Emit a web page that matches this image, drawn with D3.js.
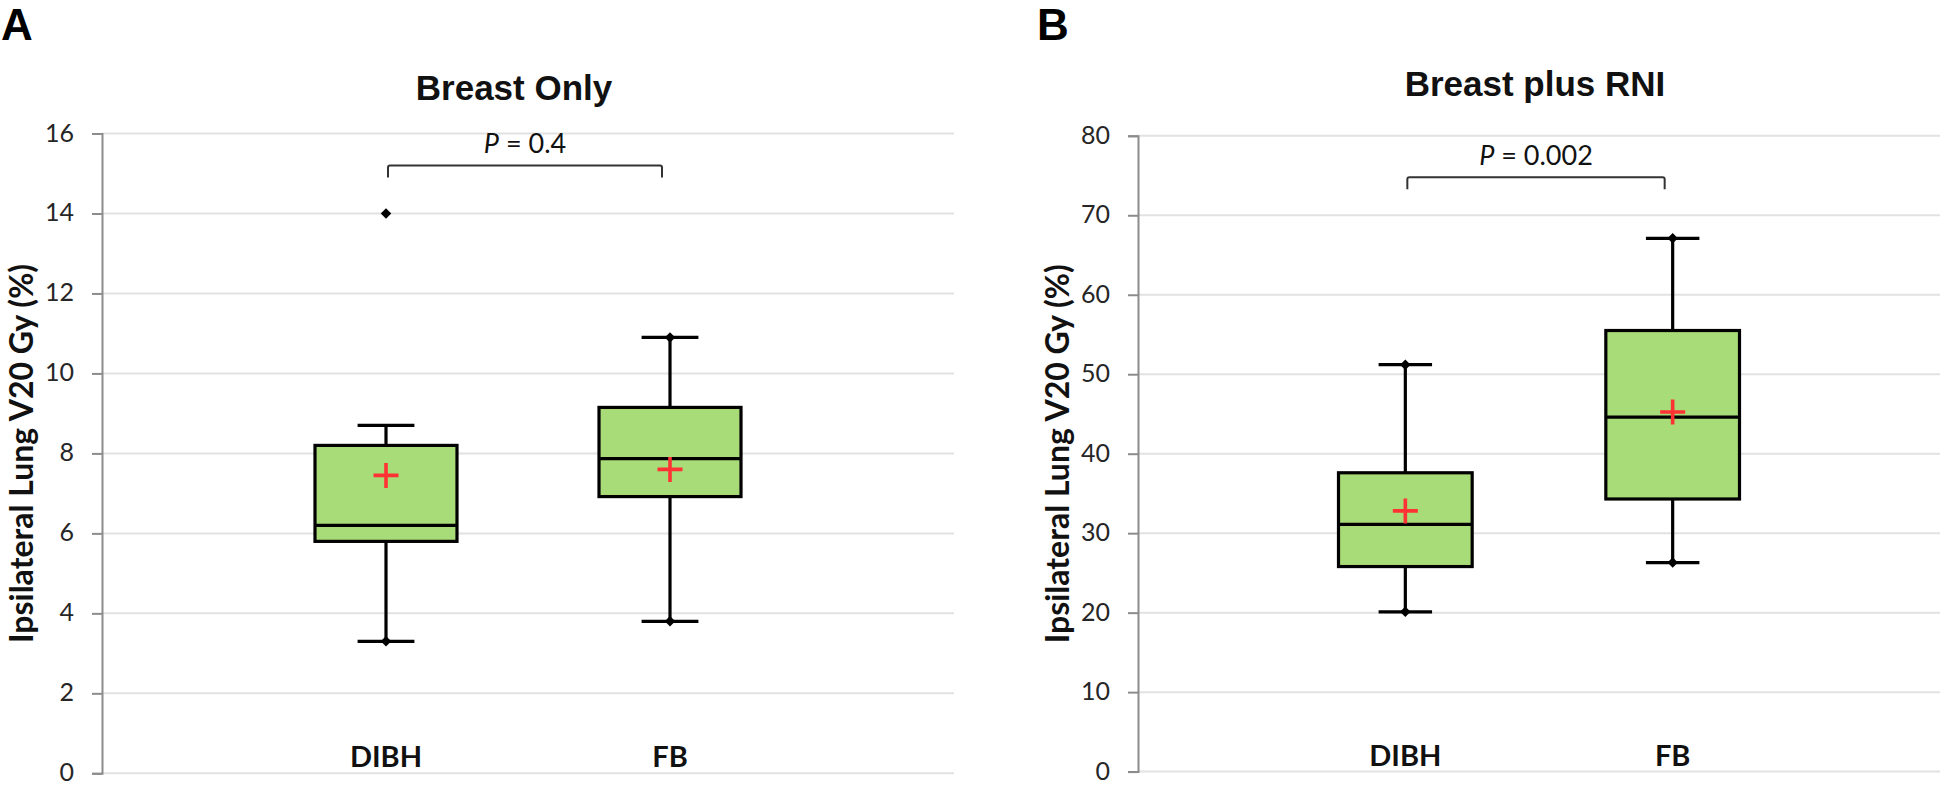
<!DOCTYPE html>
<html>
<head>
<meta charset="utf-8">
<script src="https://cdn.jsdelivr.net/npm/d3@7"></script>
<style>
  body { margin: 0; background: #fff; }
  svg { display: block; }
  .tick-label { font-family: Lato, "Open Sans", sans-serif; font-size: 25px; fill: #262626; }
  .cat-label { font-family: Lato, "Open Sans", sans-serif; font-size: 29px; font-weight: bold; fill: #111; }
  .y-title { font-family: Lato, "Open Sans", sans-serif; font-size: 32px; font-weight: bold; fill: #111; }
  .title { font-family: "Liberation Sans", Arial, sans-serif; font-size: 35px; font-weight: bold; fill: #111; }
  .letter { font-family: "Liberation Sans", Arial, sans-serif; font-size: 44px; font-weight: bold; fill: #000; }
  .pval { font-family: Lato, "Open Sans", sans-serif; font-size: 27px; fill: #111; }
</style>
</head>
<body>
<div id="root"></div>
<script>
const groups = ["DIBH", "FB"];

// Breast only
const onlyMin = [3.3, 3.8];
const onlyQ1 = [5.8, 6.92];
const onlyMedian = [6.2, 7.87];
const onlyQ3 = [8.2, 9.15];
const onlyWhiskerHigh = [8.7, 10.9];
const onlyMax = [14, 10.9];
const onlyMean = [7.45, 7.6];
const onlyTicks = [0, 2, 4, 6, 8, 10, 12, 14, 16];

// Breast plus RNI
const rniMin = [20.1, 26.3];
const rniQ1 = [25.8, 34.3];
const rniMedian = [31.1, 44.6];
const rniQ3 = [37.6, 55.5];
const rniWhiskerHigh = [51.2, 67.1];
const rniMax = [51.2, 67.1];
const rniMean = [32.8, 45.25];
const rniTicks = [0, 10, 20, 30, 40, 50, 60, 70, 80];

const width = 1946, height = 785;

const svg = d3.select("#root").append("svg")
    .attr("width", width)
    .attr("height", height);

const panels = [
    {
        letter: "A", title: "Breast Only", pText: "0.4",
        left: 102, right: 954, top: 133.5, bottom: 773.3,
        titleX: 514, titleY: 100, bracketY: 15.2,
        ticks: onlyTicks, min: onlyMin, q1: onlyQ1, median: onlyMedian, q3: onlyQ3,
        whiskerHigh: onlyWhiskerHigh, max: onlyMax, mean: onlyMean
    },
    {
        letter: "B", title: "Breast plus RNI", pText: "0.002",
        left: 1138, right: 1940, top: 135.8, bottom: 771.6,
        titleX: 1535, titleY: 96, bracketY: 74.8,
        ticks: rniTicks, min: rniMin, q1: rniQ1, median: rniMedian, q3: rniQ3,
        whiskerHigh: rniWhiskerHigh, max: rniMax, mean: rniMean
    }
];

panels.forEach(function (p) {
    const g = svg.append("g");

    const y = d3.scaleLinear()
        .domain([p.ticks[0], p.ticks[p.ticks.length - 1]])
        .range([p.bottom, p.top]);

    const x = d3.scalePoint()
        .domain(groups)
        .range([p.left, p.right])
        .padding(1);

    const step = x.step();
    const boxW = step * 0.5;
    const capW = step * 0.2;

    // gridlines
    g.selectAll(".grid")
        .data(p.ticks)
        .enter()
        .append("line")
        .attr("x1", p.left)
        .attr("x2", p.right)
        .attr("y1", d => y(d))
        .attr("y2", d => y(d))
        .attr("stroke", "#e2e2e2")
        .attr("stroke-width", 2);

    // y axis
    const axis = g.append("g")
        .attr("transform", "translate(" + p.left + ",0)")
        .call(d3.axisLeft(y).tickValues(p.ticks).tickSize(10).tickPadding(18));
    axis.select(".domain").attr("stroke", "#8c8c8c").attr("stroke-width", 2);
    axis.selectAll(".tick line").attr("stroke", "#8c8c8c").attr("stroke-width", 2);
    axis.selectAll(".tick text")
        .attr("class", "tick-label")
        .attr("dy", "0.3em")
        .attr("font-family", null)
        .attr("font-size", null)
        .attr("fill", null);

    // y title
    g.append("text")
        .attr("class", "y-title")
        .attr("transform", "translate(" + (p.left - 82) + "," + ((p.top + p.bottom) / 2) + ") rotate(-90)")
        .attr("text-anchor", "middle")
        .attr("dominant-baseline", "central")
        .text("Ipsilateral Lung V20 Gy (%)");

    // panel letter and title
    g.append("text")
        .attr("class", "letter")
        .attr("x", p.left - 101)
        .attr("y", 40)
        .text(p.letter);

    g.append("text")
        .attr("class", "title")
        .attr("x", p.titleX)
        .attr("y", p.titleY)
        .attr("text-anchor", "middle")
        .text(p.title);

    const boxes = g.selectAll(".box")
        .data(groups.map((name, i) => ({
            name: name, min: p.min[i], q1: p.q1[i], median: p.median[i], q3: p.q3[i],
            whiskerHigh: p.whiskerHigh[i], max: p.max[i], mean: p.mean[i]
        })))
        .enter()
        .append("g")
        .attr("class", "box")
        .attr("transform", d => "translate(" + x(d.name) + ",0)");

    // whiskers
    boxes.append("line")
        .attr("y1", d => y(d.min))
        .attr("y2", d => y(d.whiskerHigh))
        .attr("stroke", "#000")
        .attr("stroke-width", 3.2);

    boxes.append("line")
        .attr("x1", -capW / 2).attr("x2", capW / 2)
        .attr("y1", d => y(d.min)).attr("y2", d => y(d.min))
        .attr("stroke", "#000").attr("stroke-width", 3.2);

    boxes.append("line")
        .attr("x1", -capW / 2).attr("x2", capW / 2)
        .attr("y1", d => y(d.whiskerHigh)).attr("y2", d => y(d.whiskerHigh))
        .attr("stroke", "#000").attr("stroke-width", 3.2);

    // box
    boxes.append("rect")
        .attr("x", -boxW / 2)
        .attr("width", boxW)
        .attr("y", d => y(d.q3))
        .attr("height", d => y(d.q1) - y(d.q3))
        .attr("fill", "#a8dc78")
        .attr("stroke", "#000")
        .attr("stroke-width", 3.2);

    // median
    boxes.append("line")
        .attr("x1", -boxW / 2).attr("x2", boxW / 2)
        .attr("y1", d => y(d.median)).attr("y2", d => y(d.median))
        .attr("stroke", "#000").attr("stroke-width", 3.2);

    // min / max markers
    const diamond = d3.symbol().type(d3.symbolDiamond2).size(70);
    boxes.selectAll(".mark")
        .data(d => [d.min, d.max])
        .enter()
        .append("path")
        .attr("d", diamond)
        .attr("transform", d => "translate(0," + y(d) + ")")
        .attr("fill", "#000");

    // mean cross
    boxes.append("path")
        .attr("d", d => "M-12.5," + y(d.mean) + "H12.5M0," + (y(d.mean) - 12.5) + "V" + (y(d.mean) + 12.5))
        .attr("stroke", "#ff3333")
        .attr("stroke-width", 3.6)
        .attr("fill", "none");

    // category labels
    g.selectAll(".cat")
        .data(groups)
        .enter()
        .append("text")
        .attr("class", "cat-label")
        .attr("x", d => x(d))
        .attr("y", p.bottom - 6)
        .attr("text-anchor", "middle")
        .text(d => d);

    // significance bracket
    const bx1 = x(groups[0]) + 2, bx2 = x(groups[1]) - 8, by = y(p.bracketY);
    g.append("path")
        .attr("d", "M" + bx1 + "," + (by + 12) + "V" + (by + 2) + "Q" + bx1 + "," + by + " " + (bx1 + 2) + "," + by +
            "H" + (bx2 - 2) + "Q" + bx2 + "," + by + " " + bx2 + "," + (by + 2) + "V" + (by + 12))
        .attr("fill", "none")
        .attr("stroke", "#333")
        .attr("stroke-width", 2);

    const pt = g.append("text")
        .attr("class", "pval")
        .attr("x", (bx1 + bx2) / 2)
        .attr("y", by - 12)
        .attr("text-anchor", "middle");
    pt.append("tspan").attr("font-style", "italic").text("P");
    pt.append("tspan").text(" = " + p.pText);
});
</script>
</body>
</html>
